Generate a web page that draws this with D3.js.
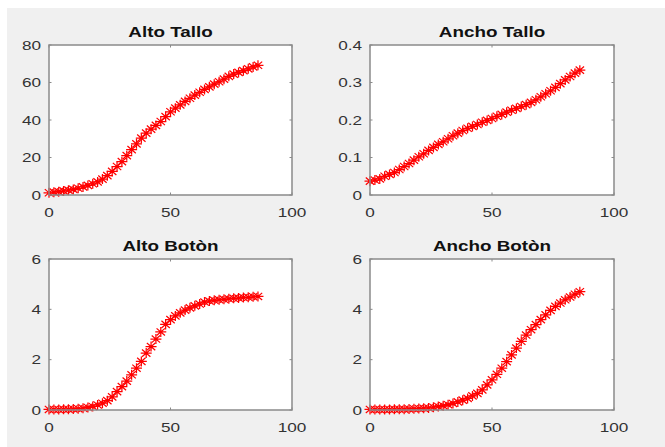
<!DOCTYPE html>
<html><head><meta charset="utf-8">
<script src="https://cdn.jsdelivr.net/npm/d3@7"></script>
<style>html,body{margin:0;padding:0;background:#fff;}svg{display:block;}</style>
</head><body>
<script>
const days = [0,2,4,6,8,10,12,14,16,18,20,22,24,26,28,30,32,34,36,38,40,42,44,46,48,50,52,54,56,58,60,62,64,66,68,70,72,74,76,78,80,82,84,86];
const altoTallo = [1.2,1.5,1.8,2.2,2.6,3.0,3.6,4.3,5.1,6.0,7.0,8.5,10.3,12.6,15.2,17.8,21.0,24.2,27.3,30.3,33.0,35.1,37.1,39.2,41.8,44.4,46.3,48.1,49.9,51.6,53.3,54.8,56.3,57.7,59.1,60.4,61.8,63.3,64.5,65.4,66.3,67.3,68.3,69.2];
const anchoTallo = [0.037,0.040,0.043,0.050,0.055,0.060,0.068,0.076,0.084,0.093,0.102,0.110,0.119,0.127,0.135,0.142,0.150,0.158,0.165,0.172,0.178,0.183,0.188,0.194,0.199,0.204,0.210,0.215,0.221,0.226,0.231,0.236,0.241,0.247,0.254,0.262,0.270,0.278,0.287,0.297,0.307,0.316,0.325,0.333];
const altoBoton = [0.02,0.02,0.02,0.03,0.03,0.04,0.05,0.07,0.10,0.14,0.20,0.27,0.37,0.52,0.73,0.93,1.15,1.40,1.66,1.93,2.26,2.52,2.82,3.10,3.40,3.59,3.74,3.86,3.97,4.06,4.14,4.21,4.29,4.33,4.36,4.38,4.40,4.42,4.44,4.45,4.47,4.48,4.50,4.51];
const anchoBoton = [0.02,0.02,0.02,0.02,0.02,0.03,0.03,0.03,0.04,0.05,0.06,0.07,0.08,0.11,0.14,0.17,0.21,0.26,0.32,0.39,0.46,0.56,0.66,0.80,1.00,1.20,1.42,1.66,1.92,2.19,2.46,2.73,2.98,3.19,3.39,3.59,3.78,3.96,4.12,4.25,4.38,4.49,4.60,4.70];
const titles = ["Alto Tallo","Ancho Tallo","Alto Botòn","Ancho Botòn"];
const xTicks = [0,50,100];
const yTicksList = [[0,20,40,60,80],[0,0.1,0.2,0.3,0.4],[0,2,4,6],[0,2,4,6]];
const yMaxList = [80,0.4,6,6];
const seriesList = [altoTallo, anchoTallo, altoBoton, anchoBoton];

const W = 665, H = 447;
const svg = d3.select("body").append("svg").attr("width", W).attr("height", H);
svg.append("rect").attr("x",0).attr("y",0).attr("width",W).attr("height",H).attr("fill","#ffffff");
svg.append("rect").attr("x",7).attr("y",8).attr("width",W-7).attr("height",H-8).attr("fill","#f0f0f0");

const boxes = [
  {x0:49, x1:292, y0:45, y1:195},
  {x0:370, x1:614, y0:45, y1:195},
  {x0:49, x1:292, y0:259, y1:410},
  {x0:370, x1:614, y0:259, y1:410}
];
const axisColor = "#8a8a8a";
const textColor = "#333333";
const SX = 1.27;
const fontFam = "'Liberation Sans', Arial, Helvetica, sans-serif";

function stretchedText(g, x, y, txt, anchor, opts) {
  const t = g.append("g").attr("transform", `translate(${x},${y}) scale(${opts.sx||SX},1)`);
  t.append("text").attr("x",0).attr("y",0)
    .attr("text-anchor", anchor)
    .attr("font-family", fontFam)
    .attr("font-size", opts.size)
    .attr("font-weight", opts.weight || "normal")
    .attr("fill", opts.color)
    .text(txt);
}

boxes.forEach((b, i) => {
  const g = svg.append("g");
  const x = d3.scaleLinear().domain([0,100]).range([b.x0, b.x1]);
  const y = d3.scaleLinear().domain([0, yMaxList[i]]).range([b.y1, b.y0]);
  g.append("rect").attr("x", b.x0).attr("y", b.y0).attr("width", b.x1-b.x0).attr("height", b.y1-b.y0)
    .attr("fill","#ffffff");

  const tl = 2.5;
  xTicks.forEach(v => {
    const px = x(v);
    g.append("line").attr("x1",px).attr("x2",px).attr("y1",b.y1).attr("y2",b.y1-tl).attr("stroke",axisColor).attr("stroke-width",1);
    g.append("line").attr("x1",px).attr("x2",px).attr("y1",b.y0).attr("y2",b.y0+tl).attr("stroke",axisColor).attr("stroke-width",1);
    stretchedText(g, px, b.y1+21.5, String(v), "middle", {size:13.5, color:textColor});
  });
  yTicksList[i].forEach(v => {
    const py = y(v);
    g.append("line").attr("x1",b.x0).attr("x2",b.x0+tl).attr("y1",py).attr("y2",py).attr("stroke",axisColor).attr("stroke-width",1);
    g.append("line").attr("x1",b.x1).attr("x2",b.x1-tl).attr("y1",py).attr("y2",py).attr("stroke",axisColor).attr("stroke-width",1);
    stretchedText(g, b.x0-8, py+4.8, String(v), "end", {size:13.5, color:textColor});
  });

  const data = days.map((d, k) => ({d, v: seriesList[i][k]}));
  const m = g.append("g").attr("stroke","#ff0000").attr("stroke-width",1.25).attr("fill","none");
  m.selectAll("path").data(data).enter().append("path")
    .attr("transform", p => `translate(${x(p.d)},${y(p.v)})`)
    .attr("d", "M-5.5,0L5.5,0M0,-5L0,5M-4.2,-3.6L4.2,3.6M-4.2,3.6L4.2,-3.6");

  g.append("rect").attr("x", b.x0).attr("y", b.y0).attr("width", b.x1-b.x0).attr("height", b.y1-b.y0)
    .attr("fill","none").attr("stroke",axisColor).attr("stroke-width",1.5);

  stretchedText(g, (b.x0+b.x1)/2, b.y0-8, titles[i], "middle", {size:14.5, weight:"bold", color:"#111", sx:1.3});
});
</script>
</body></html>
